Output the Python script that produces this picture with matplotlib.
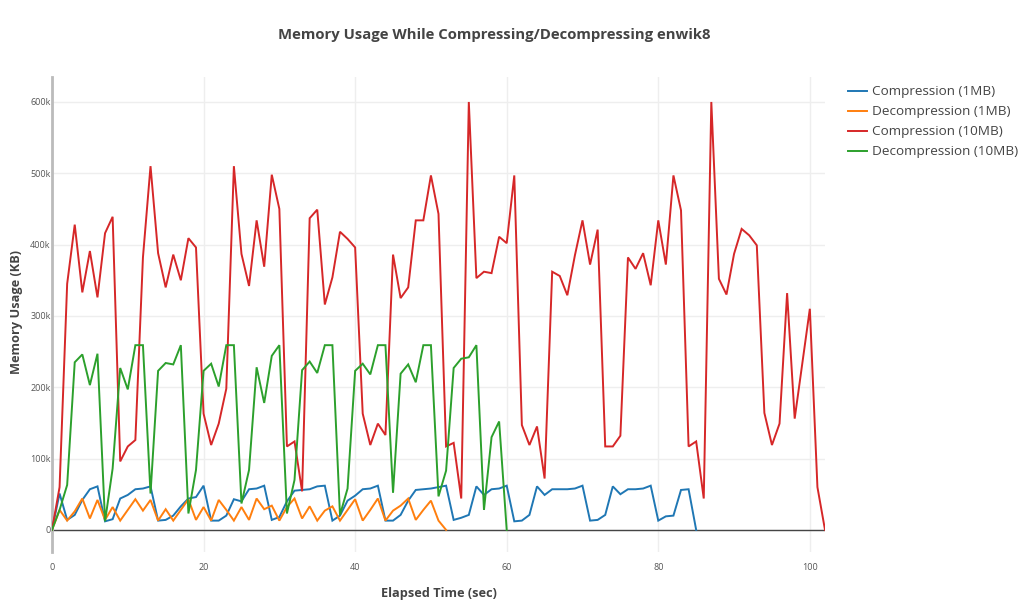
import numpy as np
import matplotlib
matplotlib.use("Agg")
import matplotlib.pyplot as plt
from matplotlib.ticker import FuncFormatter

plt.rcParams['font.family'] = ['Open Sans', 'DejaVu Sans']

# memory samples, one per second, in KB (thousands)
comp_1mb = [0, 51, 14, 21, 42, 57, 61, 12, 15, 44, 49, 57, 58, 61, 13, 14, 20, 33, 44, 46,
            62, 13, 13, 20, 43, 40, 57, 58, 62, 14, 18, 40, 55, 56, 57, 61, 62, 13, 20, 41,
            48, 57, 58, 62, 13, 13, 21, 41, 56, 57, 58, 60, 62, 14, 17, 21, 61, 49, 57, 58,
            62, 12, 13, 21, 61, 49, 57, 57, 57, 58, 62, 13, 14, 21, 61, 50, 57, 57, 58, 62,
            13, 19, 20, 56, 57, 0]
decomp_1mb = [0, 28, 13, 26, 44, 16, 42, 14, 32, 13, 28, 43, 27, 42, 13, 29, 13, 28, 43, 14,
              32, 13, 42, 28, 13, 32, 14, 44, 29, 34, 13, 32, 44, 16, 33, 13, 27, 33, 13, 28,
              43, 13, 28, 44, 13, 27, 34, 44, 14, 28, 41, 13, 0]
comp_10mb = [0, 60, 345, 428, 333, 391, 326, 416, 439, 96, 117, 126, 382, 510, 388, 340, 386, 350,
             409, 396, 163, 119, 149, 198, 510, 387, 342, 434, 369, 498, 450, 117, 124, 54, 437,
             449, 316, 354, 418, 408, 396, 163, 119, 149, 133, 386, 325, 340, 434, 434, 497, 443,
             117, 122, 44, 600, 353, 362, 360, 411, 402, 497, 147, 119, 145, 72, 362, 356, 329,
             385, 434, 372, 421, 117, 117, 132, 382, 366, 388, 343, 434, 372, 497, 448, 117, 124,
             44, 600, 352, 330, 387, 422, 413, 399, 164, 119, 149, 332, 156, 233, 310, 60, 0]
decomp_10mb = [0, 28, 63, 235, 246, 203, 247, 12, 86, 227, 197, 259, 259, 51, 223, 234, 232, 259,
               23, 84, 223, 233, 201, 259, 259, 37, 84, 228, 178, 244, 259, 23, 70, 224, 236, 220,
               259, 259, 21, 58, 223, 233, 218, 259, 259, 52, 219, 232, 207, 259, 259, 47, 83, 227,
               240, 242, 259, 28, 130, 152, 0]

series = [
    ("Compression (1MB)", comp_1mb, "#1f77b4"),
    ("Decompression (1MB)", decomp_1mb, "#ff7f0e"),
    ("Compression (10MB)", comp_10mb, "#d62728"),
    ("Decompression (10MB)", decomp_10mb, "#2ca02c"),
]

W, H = 1028, 607
fig = plt.figure(figsize=(W / 100, H / 100), dpi=100)
ax = fig.add_axes([52 / W, (H - 552) / H, (825 - 52) / W, (552 - 77) / H])

for name, vals, color in series:
    kb = np.array(vals) * 1000
    ax.plot(np.arange(len(kb)), kb, color=color, lw=1.4, label=name,
            solid_joinstyle='miter', zorder=3)

ax.set_xlim(0, 102)
ax.set_ylim(-31000, 635000)
ax.set_xticks(range(0, 101, 20))
ax.set_yticks(range(0, 600001, 100000))
ax.yaxis.set_major_formatter(FuncFormatter(lambda v, p: "0" if v == 0 else f"{int(v / 1000)}k"))

ax.grid(True, color="#eeeeee", lw=1, zorder=0)
ax.axhline(0, color="#444444", lw=1, zorder=2)
for side in ("top", "right", "bottom"):
    ax.spines[side].set_visible(False)
ax.spines["left"].set_color("#bbbbbb")
ax.spines["left"].set_linewidth(2)
ax.tick_params(axis="both", length=0, labelsize=6.5, labelcolor="#555555")
ax.tick_params(axis="x", pad=8)
ax.tick_params(axis="y", pad=1)

fig.text(494 / W, 1 - 35 / H, "Memory Usage While Compressing/Decompressing enwik8",
         ha="center", va="center", fontsize=10.7, fontweight="bold", color="#444444")
fig.text(439 / W, 1 - 593 / H, "Elapsed Time (sec)", ha="center", va="center",
         fontsize=9.2, fontweight="bold", color="#444444")
fig.text(17 / W, 1 - 312 / H, "Memory Usage (KB)", ha="center", va="center",
         rotation=90, fontsize=9.2, fontweight="bold", color="#444444")

leg = ax.legend(loc="upper left", bbox_to_anchor=(843 / W, 1 - 80 / H),
                bbox_transform=fig.transFigure, frameon=False, fontsize=9.7,
                handlelength=1.4, handletextpad=0.37, labelspacing=0.52,
                borderaxespad=0)
for t in leg.get_texts():
    t.set_color("#444444")

fig.savefig("out.png", dpi=100)
